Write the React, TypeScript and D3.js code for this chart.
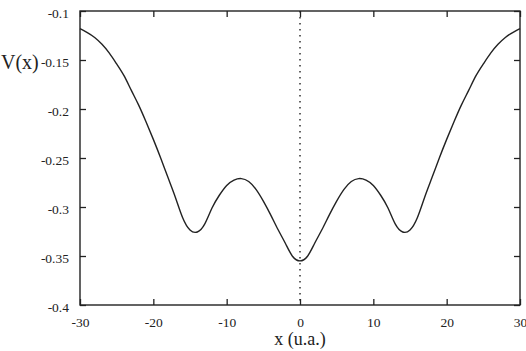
import React, { useEffect, useRef } from 'react';
import * as d3 from 'd3';

// potential V(x), symmetric about x = 0
const xValues = [
  -30, -29, -28, -27, -26, -25, -24, -23, -22, -21, -20, -19, -18, -17, -16, -15,
  -14, -13, -12, -11, -10, -9, -8, -7, -6, -5, -4, -3, -2, -1, 0,
  1, 2, 3, 4, 5, 6, 7, 8, 9, 10, 11, 12, 13, 14, 15,
  16, 17, 18, 19, 20, 21, 22, 23, 24, 25, 26, 27, 28, 29, 30,
];
const vValues = [
  -0.118, -0.122, -0.127, -0.134, -0.143, -0.154, -0.166, -0.181, -0.196, -0.213, -0.231, -0.250, -0.270, -0.290, -0.311, -0.3235,
  -0.3255, -0.3175, -0.301, -0.288, -0.278, -0.2725, -0.271, -0.274, -0.282, -0.294, -0.308, -0.323, -0.337, -0.3505, -0.355,
  -0.3505, -0.337, -0.323, -0.308, -0.294, -0.282, -0.274, -0.271, -0.2725, -0.278, -0.288, -0.301, -0.3175, -0.3255, -0.3235,
  -0.311, -0.290, -0.270, -0.250, -0.231, -0.213, -0.196, -0.181, -0.166, -0.154, -0.143, -0.134, -0.127, -0.122, -0.118,
];
const xTicks = [-30, -20, -10, 0, 10, 20, 30];
const yTicks = [-0.4, -0.35, -0.3, -0.25, -0.2, -0.15, -0.1];

const W = 526, H = 351;
const margin = { top: 11, right: 6, bottom: 46, left: 80 };

const App = () => {
  const ref = useRef<SVGSVGElement>(null);

  useEffect(() => {
    const svg = d3.select(ref.current);
    svg.selectAll('*').remove();

    const width = W - margin.left - margin.right,
      height = H - margin.top - margin.bottom;

    const x = d3.scaleLinear().domain([-30, 30]).range([0, width]);
    const y = d3.scaleLinear().domain([-0.4, -0.1]).range([height, 0]);

    const g = svg.append('g').attr('transform', `translate(${margin.left},${margin.top})`);
    const font = "'Liberation Serif', 'DejaVu Serif', serif";
    const tickLen = 6;

    // dotted line at x = 0
    g.append('line')
      .attr('x1', x(0)).attr('x2', x(0))
      .attr('y1', 0).attr('y2', height)
      .attr('stroke', '#222').attr('stroke-width', 1.4)
      .attr('stroke-dasharray', '1.6,4.4');

    // ticks, mirrored on all four sides, pointing inward
    const bottom = g.append('g').attr('transform', `translate(0,${height})`)
      .call(d3.axisBottom(x).tickValues(xTicks).tickSize(-tickLen).tickPadding(12).tickFormat(d => String(+d)));
    const top = g.append('g')
      .call(d3.axisTop(x).tickValues(xTicks).tickSize(-tickLen).tickFormat(() => ''));
    const left = g.append('g')
      .call(d3.axisLeft(y).tickValues(yTicks).tickSize(-tickLen).tickPadding(11).tickFormat(d => String(+d)));
    const right = g.append('g').attr('transform', `translate(${width},0)`)
      .call(d3.axisRight(y).tickValues(yTicks).tickSize(-tickLen).tickFormat(() => ''));

    [bottom, top, left, right].forEach(a => {
      a.attr('font-family', font);
      a.select('.domain').remove();
      a.selectAll('line').attr('stroke', '#222').attr('stroke-width', 1.3);
      a.selectAll('text').attr('fill', '#222').style('font-family', font).style('font-size', '13.5px');
    });
    left.selectAll('text').attr('dy', '0.5em');

    // frame
    g.append('rect')
      .attr('width', width).attr('height', height)
      .attr('fill', 'none').attr('stroke', '#222').attr('stroke-width', 1.4);

    // curve
    const pts = xValues.map((xv, i) => [xv, vValues[i]] as [number, number]);
    const line = d3.line<[number, number]>()
      .x(d => x(d[0]))
      .y(d => y(d[1]))
      .curve(d3.curveNatural);
    g.append('path')
      .attr('d', line(pts))
      .attr('fill', 'none')
      .attr('stroke', '#222')
      .attr('stroke-width', 1.4);

    // axis titles
    svg.append('text')
      .attr('x', margin.left + x(0)).attr('y', 345)
      .attr('text-anchor', 'middle')
      .style('font-family', font).style('font-size', '18px')
      .attr('fill', '#222')
      .text('x (u.a.)');
    svg.append('text')
      .attr('x', 1).attr('y', 69)
      .attr('text-anchor', 'start')
      .style('font-family', font).style('font-size', '20px')
      .attr('fill', '#222')
      .text('V(x)');
  }, []);

  return (
    <svg ref={ref} width={W} height={H}
      style={{ position: 'absolute', left: 0, top: 0, background: '#fff' }} />
  );
};

export default App;
